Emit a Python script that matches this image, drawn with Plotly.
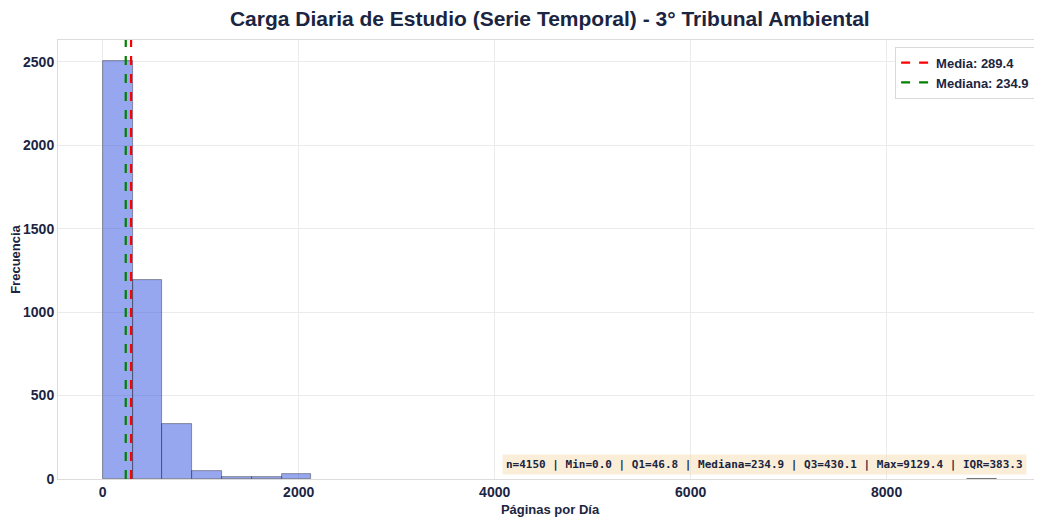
import numpy as np
import plotly.graph_objects as go

# Histogram data (30 bins between min and max)
data_min = 0.0
data_max = 9129.4
n_bins = 30
counts = [2505, 1195, 330, 47, 10, 10, 28, 0, 0, 0,
          0, 0, 0, 0, 0, 0, 0, 0, 0, 0,
          0, 0, 0, 0, 0, 0, 0, 0, 0, 1]
media = 289.4
mediana = 234.9
stats_text = "n=4150 | Min=0.0 | Q1=46.8 | Mediana=234.9 | Q3=430.1 | Max=9129.4 | IQR=383.3"

edges = np.linspace(data_min, data_max, n_bins + 1)
centers = (edges[:-1] + edges[1:]) / 2
widths = np.diff(edges)
edge_widths = [0.8 if c > 0 else 0 for c in counts]

ymax = max(counts) * 1.05
xpad = (data_max - data_min) * 0.05

navy = "#1b2541"
ffam = "Liberation Sans, Arial, sans-serif"
fig = go.Figure()
fig.add_trace(go.Bar(
    x=centers, y=counts, width=widths,
    marker=dict(color="rgba(65,95,225,0.55)",
                line=dict(color="rgba(0,0,0,0.45)", width=edge_widths)),
    showlegend=False, hoverinfo="x+y",
))
fig.add_trace(go.Scatter(
    x=[media, media], y=[0, ymax], mode="lines",
    line=dict(color="red", dash="dash", width=2.2),
    name=f"Media: {media:.1f}",
))
fig.add_trace(go.Scatter(
    x=[mediana, mediana], y=[0, ymax], mode="lines",
    line=dict(color="green", dash="dash", width=2.2),
    name=f"Mediana: {mediana:.1f}",
))

# page body has an 8px margin, so the figure is sized to fit the window
fig.update_layout(
    width=1034, height=509,
    margin=dict(l=50, r=0, t=32, b=38, autoexpand=False),
    paper_bgcolor="white", plot_bgcolor="white",
    font=dict(family=ffam, color=navy),
    title=dict(text="Carga Diaria de Estudio (Serie Temporal) - 3° Tribunal Ambiental",
               x=0.524, xanchor="center", y=0.979, yanchor="middle", automargin=False,
               font=dict(size=21, color=navy, weight="bold")),
    bargap=0,
    legend=dict(x=0.993, y=0.985, xanchor="right", yanchor="top",
                bgcolor="white", bordercolor="#d9d9d9", borderwidth=1,
                font=dict(size=13, color=navy, family=ffam, weight="bold"),
                tracegroupgap=0),
    annotations=[dict(
        text=stats_text, xref="paper", yref="paper", x=0.985, y=0.008,
        xanchor="right", yanchor="bottom", showarrow=False,
        font=dict(family="DejaVu Sans Mono, monospace", size=11, color=navy, weight="bold"),
        bgcolor="rgba(245,222,179,0.5)", borderpad=3,
    )],
)
fig.update_xaxes(
    range=[data_min - xpad, data_max + xpad], automargin=False,
    tickvals=[0, 2000, 4000, 6000, 8000],
    tickfont=dict(size=14, color=navy, weight="bold"), ticks="",
    title=dict(text="Páginas por Día", font=dict(size=13, color=navy, weight="bold"), standoff=6),
    showgrid=True, gridcolor="#ebebeb", gridwidth=1,
    showline=True, linecolor="#dcdcdc", linewidth=1, mirror=True, zeroline=False,
)
fig.update_yaxes(
    range=[0, ymax], automargin=False,
    tickvals=[0, 500, 1000, 1500, 2000, 2500],
    tickfont=dict(size=14, color=navy, weight="bold"), ticks="",
    title=dict(text="Frecuencia", font=dict(size=13, color=navy, weight="bold"), standoff=8),
    showgrid=True, gridcolor="#ebebeb", gridwidth=1,
    showline=True, linecolor="#dcdcdc", linewidth=1, mirror=True, zeroline=False,
)

fig.write_html("out.html")
